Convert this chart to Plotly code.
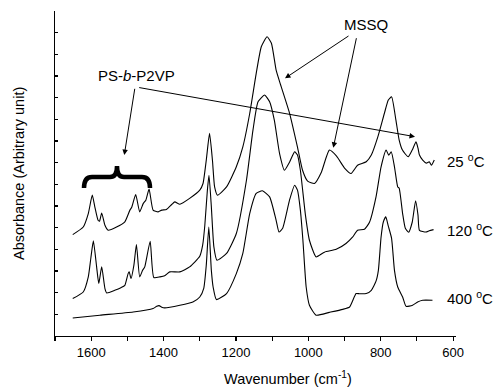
import plotly.graph_objects as go

# ---- data (wavenumber in cm^-1, absorbance in arbitrary units) ----
wn_25 = [1651, 1622, 1608, 1597, 1590, 1581, 1577, 1571, 1562, 1553, 1530, 1507, 1493, 1488,
         1477, 1466, 1456, 1449, 1440, 1429, 1415, 1405, 1392, 1377, 1369, 1355, 1328, 1300,
         1291, 1282, 1273, 1265, 1259, 1251, 1226, 1199, 1181, 1162, 1144, 1130, 1114, 1102,
         1089, 1079, 1052, 1030, 1016, 1002, 983, 964, 942, 922, 900, 882, 864, 840, 826, 808,
         790, 779, 770, 758, 749, 740, 724, 713, 702.5, 697, 693, 684, 674, 666, 660, 652]
ab_25 = [4.68, 5.03, 5.65, 6.50, 5.96, 5.34, 5.30, 5.68, 5.11, 4.88, 5.03, 5.27, 5.81, 5.94,
         6.53, 5.73, 6.12, 6.27, 6.78, 5.81, 5.73, 5.81, 5.84, 6.08, 6.19, 6.08, 6.35, 6.73,
         7.04, 8.12, 9.35, 8.12, 6.88, 6.50, 6.88, 7.81, 8.73, 10.27, 12.12, 13.35, 13.81, 13.51,
         12.27, 11.72, 10.29, 8.72, 7.65, 7.15, 7.04, 7.56, 8.58, 8.30, 7.75, 7.50, 7.88, 8.04, 8.35, 9.19,
         10.27, 10.89, 11.04, 9.96, 9.04, 8.58, 8.27, 8.58, 8.96, 8.67, 8.35, 8.12, 7.98, 8.04, 7.88, 8.12]

wn_120 = [1651, 1622, 1608, 1601, 1594, 1585, 1579, 1571, 1562, 1557, 1535, 1518, 1507, 1498,
          1495, 1490, 1482, 1475, 1466, 1458, 1452, 1437, 1427, 1410, 1397, 1383, 1355, 1328,
          1300, 1292, 1286, 1279, 1274.5, 1268, 1261, 1252.5, 1226, 1199, 1171, 1153, 1139, 1121,
          1107, 1094, 1079.5, 1066, 1052, 1038, 1030, 1022, 1008, 997, 978.5, 955.5, 923, 896,
          878, 864, 845, 831, 813, 799, 785, 778, 771, 762, 753, 749, 739.5, 732, 723, 713,
          703.6, 697, 693, 675, 666, 654]
ab_120 = [1.73, 2.03, 2.73, 3.59, 4.39, 3.19, 2.42, 3.19, 2.19, 1.99, 2.11, 2.23, 2.34, 2.88,
          2.96, 2.65, 3.27, 4.22, 2.73, 3.03, 3.19, 4.37, 2.70, 2.73, 2.78, 2.96, 2.96, 3.19,
          3.68, 4.19, 5.11, 6.73, 7.42, 5.96, 4.11, 3.50, 3.81, 4.73, 7.19, 9.50, 10.81, 11.12,
          10.81, 9.96, 8.42, 7.65, 8.02, 8.50, 8.35, 7.65, 5.58, 4.42, 3.65, 3.87, 4.00, 4.27,
          4.56, 4.88, 4.93, 5.25, 6.42, 7.81, 8.58, 8.35, 8.50, 7.81, 6.88, 6.82, 5.65, 4.97, 4.79, 5.25,
          6.24, 5.58, 4.88, 4.80, 4.86, 4.91]

wn_400 = [1651, 1576, 1484, 1429, 1419, 1412.5, 1405, 1397, 1355, 1319, 1300, 1289, 1282, 1275,
          1268, 1263, 1254, 1226, 1199, 1181, 1162, 1144, 1127, 1107, 1089, 1081, 1071, 1052,
          1038, 1030, 1022, 1015, 1006, 997, 978.5, 942, 905, 886, 868, 859, 840, 826, 813,
          806.5, 799, 793, 786, 779, 770, 762, 753, 739.5, 730, 712, 698, 684, 657]
ab_400 = [0.83, 0.96, 1.11, 1.27, 1.37, 1.40, 1.33, 1.30, 1.42, 1.57, 1.80, 2.20, 3.27, 5.03,
          3.03, 2.25, 1.68, 1.96, 2.88, 3.81, 5.65, 6.58, 6.70, 6.42, 5.34, 4.80, 4.97, 6.27,
          6.96, 6.73, 5.81, 4.42, 2.26, 1.42, 0.96, 1.09, 1.23, 1.34, 1.96, 1.95, 1.96, 2.11, 2.53,
          3.03, 4.57, 5.25, 5.50, 5.07, 4.51, 3.03, 2.26, 1.80, 1.37, 1.42, 1.57, 1.65, 1.65]

series = [("25 °C", wn_25, ab_25), ("120 °C", wn_120, ab_120), ("400 °C", wn_400, ab_400)]

x_major_ticks = [1600, 1400, 1200, 1000, 800, 600]
x_tick_text = ["1600", "1400", "1200", "1000", "800", "600"]

FONT = "Liberation Sans, Arial, Helvetica, sans-serif"

# figure geometry (pixels)
W, H = 496, 387
ML, MR, MT, MB = 55, 40, 11, 51
PW, PH = W - ML - MR, H - MT - MB


def px(xp):
    return (xp - ML) / PW


def py(yp):
    return (H - MB - yp) / PH


fig = go.Figure()
for name, xs, ys in series:
    fig.add_trace(go.Scatter(x=xs, y=ys, mode="lines", name=name,
                             line=dict(color="black", width=1.1, shape="spline", smoothing=0.5),
                             hoverinfo="skip"))

fig.update_layout(
    width=W, height=H,
    margin=dict(l=ML, r=MR, t=MT, b=MB),
    paper_bgcolor="white", plot_bgcolor="white",
    showlegend=False,
    font=dict(family=FONT, size=13, color="black"),
)

fig.update_xaxes(
    range=[1700, 592], showgrid=False, zeroline=False,
    showline=True, linecolor="black", linewidth=1.3,
    tickmode="array", tickvals=x_major_ticks, ticktext=x_tick_text,
    ticks="outside", ticklen=4, tickwidth=1.1, tickcolor="black",
    tickfont=dict(size=13, family=FONT),
    minor=dict(tickmode="linear", tick0=600, dtick=100, ticks="outside",
               ticklen=4, tickwidth=1.1, tickcolor="black", showgrid=False),
)
fig.update_yaxes(
    range=[0, 15], showgrid=False, zeroline=False,
    showline=True, linecolor="black", linewidth=1.3,
    tickmode="linear", tick0=0, dtick=1, ticks="inside", ticklen=3,
    tickwidth=1.1, tickcolor="black", showticklabels=False,
)

ann = []
# axis titles
ann.append(dict(xref="paper", yref="paper", x=px(288), y=py(378), xanchor="center", yanchor="middle",
                text="Wavenumber (cm<sup>-1</sup>)", showarrow=False, font=dict(size=14.5, family=FONT)))
ann.append(dict(xref="paper", yref="paper", x=px(19), y=py(174), xanchor="center", yanchor="middle",
                text="Absorbance (Arbitrary unit)", textangle=-90, showarrow=False,
                font=dict(size=14.5, family=FONT)))
# curve labels
for lbl, ypos in [("25 <sup>o</sup>C", 160), ("120 <sup>o</sup>C", 229.5), ("400 <sup>o</sup>C", 297.5)]:
    ann.append(dict(xref="paper", yref="paper", x=px(445), y=py(ypos), xanchor="left", yanchor="middle",
                    text=lbl, showarrow=False, font=dict(size=15, family=FONT)))
# group labels
ann.append(dict(xref="paper", yref="paper", x=px(136), y=py(76), xanchor="center", yanchor="middle",
                text="PS-<i>b</i>-P2VP", showarrow=False, font=dict(size=15, family=FONT)))
ann.append(dict(xref="paper", yref="paper", x=px(366), y=py(24), xanchor="center", yanchor="middle",
                text="MSSQ", showarrow=False, font=dict(size=15, family=FONT)))

# arrows: (tip_x, tip_y, tail_x, tail_y) in pixels
arrows = [(124.3, 155, 135, 87.3), (415, 136.7, 137.7, 87.3),
          (285, 78.3, 350, 35), (333.3, 147.7, 356.7, 36.7)]
for tx, ty, sx, sy in arrows:
    ann.append(dict(xref="paper", yref="paper", x=px(tx), y=py(ty), ax=sx - tx, ay=sy - ty,
                    axref="pixel", ayref="pixel", text="", showarrow=True,
                    arrowhead=2, arrowsize=1.1, arrowwidth=1, arrowcolor="black"))
fig.update_layout(annotations=ann)

# curly brace over the PS-b-P2VP bands


def P(xp, yp):
    return f"{px(xp):.5f},{py(yp):.5f}"


brace = (f"M {P(84, 188)} Q {P(84, 177)} {P(92, 177)} L {P(110, 177)} "
         f"Q {P(117, 177)} {P(117, 166)} Q {P(117, 177)} {P(124, 177)} "
         f"L {P(142, 177)} Q {P(150, 177)} {P(150, 188)}")
fig.add_shape(type="path", path=brace, xref="paper", yref="paper",
              line=dict(color="black", width=4.5))

fig.write_html("out.html", config={"displayModeBar": False, "staticPlot": True},
               post_script="document.body.style.margin='0px';document.body.style.padding='0px';")
